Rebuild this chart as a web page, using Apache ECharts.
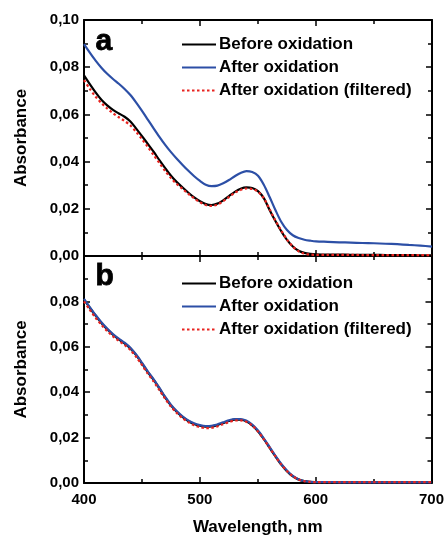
<!DOCTYPE html>
<html>
<head>
<meta charset="utf-8">
<script src="https://cdn.jsdelivr.net/npm/echarts@6/dist/echarts.min.js"></script>
<style>
html,body{margin:0;padding:0;background:#fff;}
#chart{width:447px;height:537px;}
</style>
</head>
<body>
<div id="chart"></div>
<script>
// Wavelengths (nm)
var wavelengths = [400,405,410,415,420,425,430,435,440,445,450,455,460,465,470,475,480,485,490,495,500,505,510,515,520,525,530,535,540,545,550,555,560,565,570,575,580,585,590,595,600,610,620,630,640,650,660,670,680,690,700];

// Panel a
var aBefore = [0.0765,0.0728,0.0693,0.0662,0.0638,0.0619,0.0604,0.0590,0.0570,0.0540,0.0508,0.0475,0.0442,0.0406,0.0372,0.0340,0.0313,0.0290,0.0268,0.0248,0.0232,0.0220,0.0216,0.0222,0.0236,0.0254,0.0272,0.0285,0.0291,0.0288,0.0275,0.0245,0.0195,0.0148,0.0105,0.0068,0.0040,0.0022,0.0013,0.0009,0.0007,0.0006,0.0006,0.0005,0.0005,0.0005,0.0004,0.0004,0.0004,0.0003,0.0003];
var aAfter = [0.0898,0.0862,0.0828,0.0798,0.0772,0.0750,0.0730,0.0708,0.0682,0.0650,0.0615,0.0578,0.0541,0.0505,0.0471,0.0440,0.0412,0.0386,0.0361,0.0338,0.0318,0.0302,0.0296,0.0298,0.0308,0.0322,0.0338,0.0352,0.0360,0.0356,0.0340,0.0302,0.0250,0.0195,0.0145,0.0110,0.0088,0.0076,0.0069,0.0065,0.0062,0.0060,0.0058,0.0057,0.0055,0.0054,0.0052,0.0050,0.0047,0.0044,0.0040];
var aFiltered = [0.0745,0.0708,0.0675,0.0648,0.0625,0.0605,0.0588,0.0572,0.0553,0.0526,0.0495,0.0462,0.0428,0.0394,0.0360,0.0330,0.0305,0.0284,0.0263,0.0244,0.0228,0.0216,0.0212,0.0218,0.0232,0.0250,0.0268,0.0280,0.0286,0.0284,0.0272,0.0245,0.0198,0.0150,0.0108,0.0070,0.0040,0.0020,0.0010,0.0006,0.0005,0.0005,0.0005,0.0005,0.0004,0.0004,0.0004,0.0004,0.0004,0.0004,0.0004];

// Panel b
var bBefore = [0.0808,0.0772,0.0737,0.0705,0.0677,0.0653,0.0633,0.0615,0.0593,0.0563,0.0527,0.0489,0.0455,0.0417,0.0377,0.0342,0.0314,0.0291,0.0273,0.0260,0.0252,0.0248,0.0249,0.0255,0.0264,0.0273,0.0279,0.0279,0.0272,0.0255,0.0229,0.0195,0.0157,0.0119,0.0083,0.0053,0.0030,0.0016,0.0008,0.0005,0.0004,0.0003,0.0003,0.0003,0.0003,0.0003,0.0003,0.0003,0.0003,0.0003,0.0003];
var bAfter = [0.0811,0.0775,0.0740,0.0708,0.0680,0.0656,0.0636,0.0618,0.0596,0.0566,0.0530,0.0492,0.0458,0.0420,0.0380,0.0345,0.0317,0.0294,0.0276,0.0263,0.0255,0.0251,0.0252,0.0258,0.0267,0.0276,0.0282,0.0282,0.0275,0.0258,0.0232,0.0198,0.0160,0.0122,0.0086,0.0056,0.0032,0.0017,0.0009,0.0005,0.0004,0.0004,0.0003,0.0003,0.0003,0.0003,0.0003,0.0003,0.0003,0.0003,0.0003];
var bFiltered = [0.0800,0.0763,0.0728,0.0697,0.0670,0.0646,0.0626,0.0608,0.0586,0.0556,0.0520,0.0482,0.0448,0.0410,0.0371,0.0337,0.0309,0.0286,0.0268,0.0254,0.0246,0.0242,0.0243,0.0249,0.0259,0.0268,0.0275,0.0276,0.0270,0.0254,0.0228,0.0194,0.0157,0.0119,0.0083,0.0054,0.0031,0.0016,0.0008,0.0005,0.0004,0.0004,0.0004,0.0004,0.0004,0.0004,0.0004,0.0004,0.0004,0.0004,0.0004];

var names = ['Before oxidation','After oxidation','After oxidation (filtered)'];
var colors = ['#000000','#2c4fa6','#e8231f'];

function pairs(xs, ys){ return xs.map(function(x,i){ return [x, ys[i]]; }); }
function fmt(v){ return v.toFixed(2).replace('.', ','); }

var FONT = 'Liberation Sans, Arial, sans-serif';
var axisLineStyle = {color:'#000', width:2};

function xAx(grid, pos, showLabel, name){
  var o = {
    type:'value', gridIndex:grid, position:pos, min:400, max:700, interval:100,
    axisLine:{show:true, onZero:false, lineStyle:axisLineStyle},
    axisTick:{show:true, inside:true, length:6, lineStyle:{color:'#000', width:1.5}},
    minorTick:{show:true, splitNumber:2, length:4, lineStyle:{color:'#000', width:1.5}},
    splitLine:{show:false},
    axisLabel:{show:showLabel, color:'#000', fontFamily:FONT, fontWeight:'bold', fontSize:15, margin:9}
  };
  if(name){
    o.name = name; o.nameLocation='middle'; o.nameGap=36;
    o.nameTextStyle={color:'#000', fontFamily:FONT, fontWeight:'bold', fontSize:17};
  }
  return o;
}
function yAx(grid, pos, showLabel, hideMax){
  var o = {
    type:'value', gridIndex:grid, position:pos, min:0, max:0.1, interval:0.02,
    axisLine:{show:true, onZero:false, lineStyle:axisLineStyle},
    axisTick:{show:true, inside:true, length:6, lineStyle:{color:'#000', width:1.5}},
    minorTick:{show:true, splitNumber:2, length:4, lineStyle:{color:'#000', width:1.5}},
    splitLine:{show:false},
    axisLabel:{show:showLabel, color:'#000', fontFamily:FONT, fontWeight:'bold', fontSize:15, margin:5,
      formatter:function(v){ if(hideMax && v>0.099) return ''; return fmt(v); }}
  };
  if(showLabel){
    o.name='Absorbance'; o.nameLocation='middle'; o.nameGap=54;
    o.nameTextStyle={color:'#000', fontFamily:FONT, fontWeight:'bold', fontSize:17};
  }
  return o;
}

function mk(name, data, xi, yi, idx){
  var ls = {color:colors[idx], width:2.2};
  if(idx===2){ ls.type=[2.5,2.5]; ls.width=2.2; }
  return {
    name:name, type:'line', xAxisIndex:xi, yAxisIndex:yi, data:data,
    showSymbol:false, symbol:'none', smooth:0.3, lineStyle:ls, itemStyle:{color:colors[idx]},
    z: idx===2 ? 5 : 3, animation:false
  };
}

function legendAt(top){
  return {
    orient:'vertical', left:176, top:top, itemWidth:34, itemHeight:12, itemGap:6,
    itemStyle:{opacity:0},
    textStyle:{color:'#000', fontFamily:FONT, fontWeight:'bold', fontSize:17, lineHeight:17, padding:[0,0,0,-2]},
    selectedMode:false, data:names
  };
}

var chart = echarts.init(document.getElementById('chart'), null, {renderer:'canvas'});
chart.setOption({
  animation:false,
  backgroundColor:'#fff',
  grid:[
    {left:84, top:20, width:348, height:236},
    {left:84, top:256, width:348, height:229}
  ],
  xAxis:[ xAx(0,'bottom',false), xAx(0,'top',false), xAx(1,'bottom',true,'Wavelength, nm'), xAx(1,'top',false) ],
  yAxis:[ yAx(0,'left',true,false), yAx(0,'right',false,false), yAx(1,'left',true,true), yAx(1,'right',false,false) ],
  legend:[ legendAt(31), legendAt(270) ],
  graphic:[
    {type:'text', left:95, top:26, style:{text:'a', fill:'#000', font:'bold 30px Liberation Sans, Arial, sans-serif', stroke:'#000', lineWidth:0.8}},
    {type:'text', left:95, top:261, style:{text:'b', fill:'#000', font:'bold 30px Liberation Sans, Arial, sans-serif', stroke:'#000', lineWidth:0.8}}
  ],
  series:[
    mk(names[0], pairs(wavelengths,aBefore), 0, 0, 0),
    mk(names[1], pairs(wavelengths,aAfter), 0, 0, 1),
    mk(names[2], pairs(wavelengths,aFiltered), 0, 0, 2),
    mk(names[0], pairs(wavelengths,bBefore), 2, 2, 0),
    mk(names[1], pairs(wavelengths,bAfter), 2, 2, 1),
    mk(names[2], pairs(wavelengths,bFiltered), 2, 2, 2)
  ]
});
</script>
</body>
</html>
